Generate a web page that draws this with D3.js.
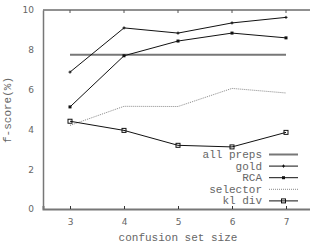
<!DOCTYPE html>
<html>
<head>
	<title></title>
	<script src="https://d3js.org/d3.v7.min.js" charset="utf-8"></script>
	<style type="text/css">
		body {
			margin: 0;
			background-color: #FFFFFF;
		}
		svg text {
			fill: #666666;
		}
		.mono {
			font-family: 'Liberation Mono', 'DejaVu Sans Mono', monospace;
		}
		.tick text {
			font-family: 'DejaVu Sans', sans-serif;
		}
	</style>
</head>
<body>
	<script type="text/javascript">

		// data
		var sizes = [3, 4, 5, 6, 7];
		var allPreps = [7.75, 7.75, 7.75, 7.75, 7.75];
		var gold = [6.88, 9.1, 8.84, 9.35, 9.63];
		var rca = [5.13, 7.7, 8.44, 8.84, 8.6];
		var selector = [4.2, 5.16, 5.15, 6.06, 5.83];
		var klDiv = [4.41, 3.95, 3.2, 3.12, 3.85];
		var yTicks = [0, 2, 4, 6, 8, 10];
		var seriesNames = ['all preps', 'gold', 'RCA', 'selector', 'kl div'];

		var w = 310;
		var h = 245;
		var mLeft = 43, mRight = 313, mTop = 10, mBottom = 209;

		var x = d3.scaleLinear().domain([2.5, 7.5]).range([mLeft, mRight]);
		var y = d3.scaleLinear().domain([0, 10]).range([mBottom, mTop]);

		var svg = d3.select('body')
			.append('svg')
			.attr('width', w)
			.attr('height', h);

		// top border
		svg.append('line')
			.attr('x1', mLeft).attr('x2', w)
			.attr('y1', mTop).attr('y2', mTop)
			.attr('stroke', '#222').attr('stroke-width', 1);

		// bottom axis
		var xAxis = svg.append('g')
			.attr('transform', 'translate(0,' + mBottom + ')')
			.call(d3.axisBottom(x).tickValues(sizes).tickSize(-3).tickPadding(10).tickFormat(d3.format('d')));
		xAxis.select('.domain').attr('stroke', '#777').attr('stroke-width', 2);
		xAxis.selectAll('.tick line').attr('stroke', '#333');
		xAxis.selectAll('.tick text').attr('font-size', '9px').attr('fill', '#666');

		// top ticks (mirror)
		svg.selectAll('.toptick')
			.data(sizes)
			.enter()
			.append('line')
			.attr('x1', function(d){ return x(d); })
			.attr('x2', function(d){ return x(d); })
			.attr('y1', mTop).attr('y2', mTop + 3)
			.attr('stroke', '#555');

		// left axis
		var yAxis = svg.append('g')
			.attr('transform', 'translate(' + mLeft + ',0)')
			.call(d3.axisLeft(y).tickValues(yTicks).tickSize(0).tickPadding(9));
		yAxis.select('.domain').attr('stroke', '#777').attr('stroke-width', 1.5);
		yAxis.selectAll('.tick text').attr('font-size', '9px').attr('fill', '#666');

		// axis labels
		svg.append('text')
			.attr('class', 'mono')
			.text('confusion set size')
			.attr('x', 178)
			.attr('y', 241)
			.attr('font-size', '11px')
			.attr('text-anchor', 'middle');

		svg.append('text')
			.attr('class', 'mono')
			.text('f-score(%)')
			.attr('transform', 'translate(11,110) rotate(-90)')
			.attr('font-size', '11px')
			.attr('text-anchor', 'middle');

		var line = d3.line()
			.x(function(d, i){ return x(sizes[i]); })
			.y(function(d){ return y(d); });

		var series = [
			{ name: seriesNames[0], values: allPreps, color: '#777', width: 2, dash: null, marker: null },
			{ name: seriesNames[1], values: gold, color: '#111', width: 1, dash: null, marker: 'plus' },
			{ name: seriesNames[2], values: rca, color: '#111', width: 1, dash: null, marker: 'fill' },
			{ name: seriesNames[3], values: selector, color: '#888', width: 1, dash: '1,1', marker: null },
			{ name: seriesNames[4], values: klDiv, color: '#111', width: 1, dash: null, marker: 'open' }
		];

		function drawMarker(g, type, cx, cy, color){
			if (type == 'plus') {
				g.append('path')
					.attr('d', 'M' + (cx - 1.5) + ',' + cy + 'h3M' + cx + ',' + (cy - 1.5) + 'v3')
					.attr('stroke', color).attr('stroke-width', 1);
			} else if (type == 'fill') {
				g.append('rect')
					.attr('x', cx - 1.5).attr('y', cy - 1.5)
					.attr('width', 3).attr('height', 3)
					.attr('fill', color);
			} else if (type == 'open') {
				g.append('rect')
					.attr('x', cx - 2).attr('y', cy - 2)
					.attr('width', 4).attr('height', 4)
					.attr('fill', 'none')
					.attr('stroke', color).attr('stroke-width', 1);
			}
		}

		series.forEach(function(s){
			var g = svg.append('g');
			g.append('path')
				.attr('d', line(s.values))
				.attr('fill', 'none')
				.attr('stroke', s.color)
				.attr('stroke-width', s.width)
				.attr('stroke-dasharray', s.dash);
			if (s.marker) {
				s.values.forEach(function(v, i){
					drawMarker(g, s.marker, x(sizes[i]), y(v), s.color);
				});
			}
		});

		// legend
		var legendY = 154.5, legendStep = 11.6;
		series.forEach(function(s, i){
			var ly = legendY + i * legendStep;
			svg.append('text')
				.attr('class', 'mono')
				.text(s.name)
				.attr('x', 262)
				.attr('y', ly + 3.5)
				.attr('font-size', '11px')
				.attr('text-anchor', 'end');
			var g = svg.append('g');
			g.append('line')
				.attr('x1', 269).attr('x2', 298)
				.attr('y1', ly).attr('y2', ly)
				.attr('stroke', s.color)
				.attr('stroke-width', s.width)
				.attr('stroke-dasharray', s.dash);
			if (s.marker) drawMarker(g, s.marker, 283.5, ly, s.color);
		});

	</script>
</body>
</html>
